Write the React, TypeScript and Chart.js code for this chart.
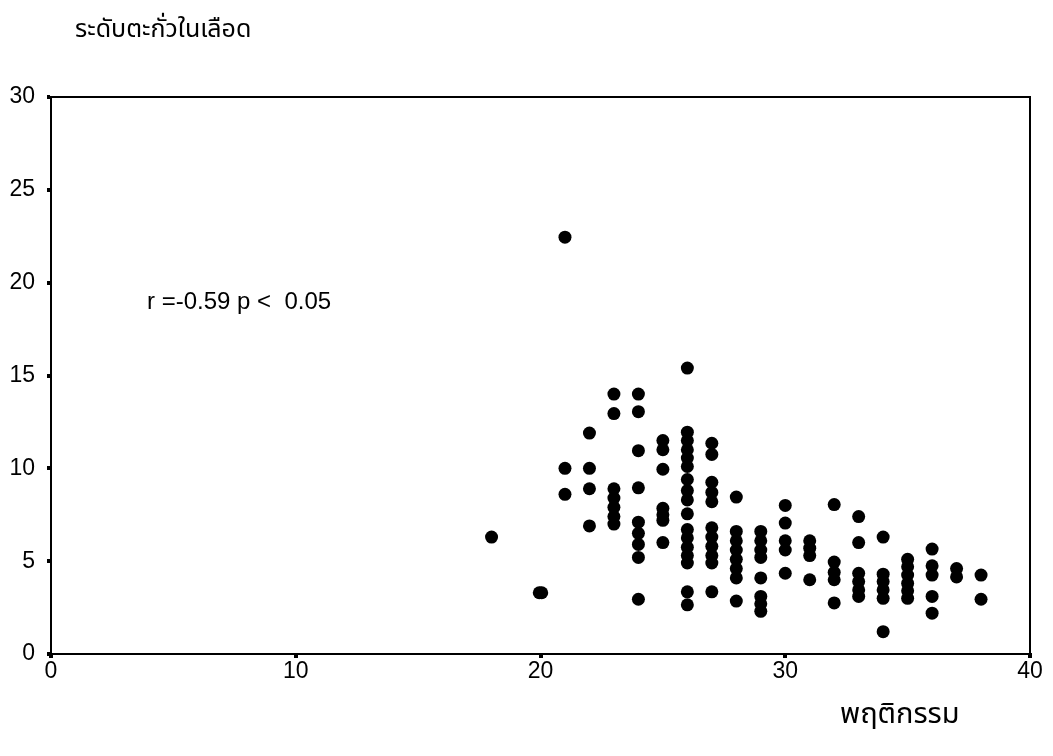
import React, { useEffect, useRef } from "react";
import { Chart, registerables } from "chart.js";

Chart.register(...registerables);

const yAxisTitle = "ระดับตะกั่วในเลือด";
const xAxisTitle = "พฤติกรรม";
const annotationText = "r =-0.59 p <  0.05";

const xTicks = [0, 10, 20, 30, 40];
const yTicks = [0, 5, 10, 15, 20, 25, 30];

// behaviour score (x) and blood lead level (y), column by column
const behaviorScore = [
  18,
  19.95, 20.05,
  21, 21, 21,
  22, 22, 22, 22,
  23, 23, 23, 23, 23, 23, 23,
  24, 24, 24, 24, 24, 24, 24, 24, 24,
  25, 25, 25, 25, 25, 25, 25,
  26, 26, 26, 26, 26, 26, 26, 26, 26, 26, 26, 26, 26, 26, 26, 26, 26,
  27, 27, 27, 27, 27, 27, 27, 27, 27, 27, 27,
  28, 28, 28, 28, 28, 28, 28, 28,
  29, 29, 29, 29, 29, 29, 29, 29,
  30, 30, 30, 30, 30,
  31, 31, 31, 31,
  32, 32, 32, 32, 32,
  33, 33, 33, 33, 33, 33,
  34, 34, 34, 34, 34, 34,
  35, 35, 35, 35, 35, 35,
  36, 36, 36, 36, 36,
  37, 37,
  38, 38,
];

const bloodLead = [
  6.3,
  3.3, 3.3,
  22.45, 10.0, 8.6,
  11.9, 10.0, 8.9, 6.9,
  14.0, 12.95, 8.9, 8.4, 7.9, 7.4, 7.0,
  14.0, 13.05, 10.95, 8.95, 7.1, 6.5, 5.9, 5.2, 2.95,
  11.5, 11.0, 9.95, 7.85, 7.5, 7.2, 6.0,
  15.4, 11.95, 11.5, 11.0, 10.55, 10.1, 9.4, 8.8, 8.3, 7.55, 6.7, 6.25, 5.75, 5.3, 4.9, 3.35, 2.65,
  11.35, 10.75, 9.25, 8.7, 8.2, 6.8, 6.3, 5.8, 5.3, 4.9, 3.35,
  8.45, 6.6, 6.1, 5.6, 5.1, 4.6, 4.1, 2.85,
  6.6, 6.1, 5.6, 5.2, 4.1, 3.1, 2.7, 2.3,
  8.0, 7.05, 6.1, 5.6, 4.35,
  6.1, 5.7, 5.3, 4.0,
  8.05, 4.95, 4.4, 4.0, 2.75,
  7.4, 6.0, 4.35, 3.9, 3.45, 3.1,
  6.3, 4.3, 3.9, 3.45, 3.0, 1.2,
  5.1, 4.7, 4.25, 3.8, 3.4, 3.0,
  5.65, 4.75, 4.25, 3.1, 2.2,
  4.6, 4.15,
  4.25, 2.95,
];

const FONT = "'Liberation Sans', Arial, sans-serif";
const THAI_FONT = "'Noto Sans Thai', 'Noto Sans', 'DejaVu Sans', sans-serif";

const overlayPlugin = {
  id: "overlay",
  afterDraw(chart: any) {
    const { ctx, chartArea } = chart;
    ctx.save();
    // frame
    ctx.strokeStyle = "#000";
    ctx.lineWidth = 2;
    ctx.strokeRect(chartArea.left, chartArea.top, chartArea.right - chartArea.left, chartArea.bottom - chartArea.top);
    // texts
    ctx.fillStyle = "#000";
    ctx.textBaseline = "middle";
    ctx.textAlign = "left";
    ctx.font = `25px ${THAI_FONT}`;
    ctx.fillText(yAxisTitle, 75, 32);
    ctx.font = `29px ${THAI_FONT}`;
    ctx.fillText(xAxisTitle, 840, 717);
    ctx.font = `24px ${FONT}`;
    ctx.fillText(annotationText, 147, 302);
    ctx.restore();
  },
};

export default function App() {
  const ref = useRef<HTMLCanvasElement | null>(null);

  useEffect(() => {
    if (!ref.current) return;
    const points = behaviorScore.map((x, i) => ({ x, y: bloodLead[i] }));
    const chart = new Chart(ref.current, {
      type: "scatter",
      data: {
        datasets: [
          {
            data: points,
            backgroundColor: "#000",
            borderColor: "#000",
            pointRadius: 6.5,
            pointHoverRadius: 6.5,
            borderWidth: 0,
          },
        ],
      },
      options: {
        responsive: false,
        animation: false,
        layout: { padding: { left: 0, top: 97, right: 23, bottom: 62 } },
        plugins: {
          legend: { display: false },
          tooltip: { enabled: false },
          title: { display: false },
        },
        scales: {
          x: {
            type: "linear",
            min: 0,
            max: 40,
            afterFit: (s: any) => {
              s.height = 40;
            },
            afterBuildTicks: (s: any) => {
              s.ticks = xTicks.map((v) => ({ value: v }));
            },
            grid: {
              drawOnChartArea: false,
              drawTicks: true,
              tickLength: 4,
              lineWidth: 4,
              color: "#000",
            },
            border: { display: true, color: "#000", width: 2 },
            ticks: {
              color: "#000",
              padding: 0,
              font: { family: FONT, size: 23 },
            },
          },
          y: {
            type: "linear",
            min: 0,
            max: 30,
            afterFit: (s: any) => {
              s.width = 51;
            },
            afterBuildTicks: (s: any) => {
              s.ticks = yTicks.map((v) => ({ value: v }));
            },
            grid: {
              drawOnChartArea: false,
              drawTicks: true,
              tickLength: 4,
              lineWidth: 4,
              color: "#000",
            },
            border: { display: true, color: "#000", width: 2 },
            ticks: {
              color: "#000",
              padding: 12,
              font: { family: FONT, size: 23 },
            },
          },
        },
      },
      plugins: [overlayPlugin],
    } as any);
    return () => chart.destroy();
  }, []);

  return (
    <div style={{ position: "fixed", left: 0, top: 0, width: 1053, height: 756, background: "#fff" }}>
      <canvas ref={ref} width={1053} height={756} style={{ width: 1053, height: 756, display: "block" }} />
    </div>
  );
}
